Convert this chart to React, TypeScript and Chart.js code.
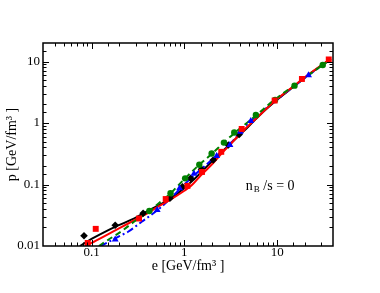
import { useEffect, useRef } from 'react';
import { Chart, registerables } from 'chart.js';

Chart.register(...registerables);

const FONT = "'Liberation Serif', 'Times New Roman', serif";

const xTickValues = [0.1, 1, 10];
const xTickLabels = ['0.1', '1', '10'];
const yTickValues = [0.01, 0.1, 1, 10];
const yTickLabels = ['0.01', '0.1', '1', '10'];

const xTitle = 'e [GeV/fm³ ]';
const yTitle = 'p [GeV/fm³ ]';
const annotationMain = 'n';
const annotationSub = 'B';
const annotationRest = ' /s = 0';
const annotationAt = [4.6, 0.081];

// curves (e, p)
const blackCurveE = [0.075, 0.1, 0.15, 0.2, 0.3, 0.4, 0.5, 0.7, 1.0, 1.3, 1.6, 2.0, 2.5, 3.0, 4, 5, 7, 10, 15, 20, 30, 38];
const blackCurveP = [0.01, 0.013, 0.018, 0.022, 0.029, 0.037, 0.044, 0.058, 0.088, 0.125, 0.172, 0.24, 0.33, 0.43, 0.65, 0.9, 1.5, 2.4, 3.9, 5.5, 8.6, 11];

const redCurveE = [0.085, 0.1, 0.15, 0.2, 0.3, 0.4, 0.5, 0.7, 1.0, 1.2, 1.5, 2.0, 2.5, 3.0, 4, 5, 7, 10, 15, 20, 30, 38];
const redCurveP = [0.01, 0.0112, 0.0155, 0.0195, 0.027, 0.034, 0.042, 0.056, 0.079, 0.097, 0.14, 0.215, 0.315, 0.42, 0.67, 0.93, 1.5, 2.45, 3.95, 5.6, 8.7, 11.1];

const greenCurveE = [0.12, 0.15, 0.2, 0.3, 0.42, 0.55, 0.7, 0.85, 1.0, 1.45, 2.0, 2.7, 3.45, 6, 9.4, 15.4, 31, 38];
const greenCurveP = [0.01, 0.0125, 0.0165, 0.026, 0.037, 0.052, 0.07, 0.095, 0.122, 0.21, 0.32, 0.49, 0.68, 1.35, 2.4, 4.1, 8.8, 10.8];

const blueCurveE = [0.125, 0.15, 0.2, 0.25, 0.35, 0.5, 0.7, 0.9, 1.2, 1.6, 2.2, 3.1, 4, 5.2, 10, 21.8, 38];
const blueCurveP = [0.01, 0.0115, 0.0145, 0.0172, 0.025, 0.037, 0.058, 0.085, 0.13, 0.19, 0.29, 0.45, 0.72, 1.08, 2.4, 6.0, 11];

// markers (e, p)
const blackPtsE = [0.083, 0.18, 0.36, 0.70, 0.955, 1.17, 1.53, 2.05, 2.98, 3.9];
const blackPtsP = [0.0147, 0.0217, 0.034, 0.0597, 0.092, 0.126, 0.177, 0.25, 0.44, 0.65];

const redPtsE = [0.091, 0.111, 0.325, 0.63, 1.08, 1.55, 2.5, 4.15, 9.4, 18.5, 36];
const redPtsP = [0.0112, 0.019, 0.028, 0.058, 0.095, 0.16, 0.34, 0.8, 2.32, 5.2, 10.8];

const greenPtsE = [0.42, 0.71, 1.02, 1.45, 1.97, 2.67, 3.45, 5.9, 9.5, 15.4, 31];
const greenPtsP = [0.037, 0.072, 0.126, 0.21, 0.32, 0.48, 0.70, 1.35, 2.37, 4.05, 8.8];

const bluePtsE = [0.18, 0.51, 0.89, 1.27, 2.23, 3.1, 4.0, 5.2, 21.8];
const bluePtsP = [0.0128, 0.0385, 0.087, 0.15, 0.29, 0.44, 0.72, 1.08, 6.0];

const BLACK = '#000000';
const RED = '#ff0000';
const GREEN = '#008000';
const BLUE = '#0000ff';

const toXY = (xs: number[], ys: number[]) => xs.map((x, i) => ({ x, y: ys[i] }));

const labelFor = (v: number, vals: number[], labels: string[]) => {
  for (let i = 0; i < vals.length; i++) {
    if (Math.abs(v - vals[i]) / vals[i] < 1e-6) return labels[i];
  }
  return '';
};

const isMajor = (v: number) => {
  const l = Math.log10(v);
  return Math.abs(l - Math.round(l)) < 1e-6;
};

const framePlugin = {
  id: 'frameTicks',
  afterDatasetsDraw(chart: any) {
    const { ctx, chartArea: a, scales } = chart;
    const xs = scales.x;
    const ys = scales.y;
    ctx.save();
    ctx.strokeStyle = '#000';
    ctx.lineWidth = 1;
    const seg = (x1: number, y1: number, x2: number, y2: number) => {
      ctx.beginPath();
      ctx.moveTo(x1, y1);
      ctx.lineTo(x2, y2);
      ctx.stroke();
    };
    xs.ticks.forEach((t: any) => {
      const px = Math.round(xs.getPixelForValue(t.value)) + 0.5;
      if (px < a.left + 1 || px > a.right - 1) return;
      const L = isMajor(t.value) ? 6 : 3.5;
      seg(px, a.bottom, px, a.bottom - L);
      seg(px, a.top, px, a.top + L);
    });
    ys.ticks.forEach((t: any) => {
      const py = Math.round(ys.getPixelForValue(t.value)) + 0.5;
      if (py < a.top + 1 || py > a.bottom - 1) return;
      const L = isMajor(t.value) ? 6 : 3.5;
      seg(a.left, py, a.left + L, py);
      seg(a.right, py, a.right - L, py);
    });
    ctx.lineWidth = 1.5;
    ctx.strokeRect(a.left, a.top, a.right - a.left, a.bottom - a.top);

    // annotation
    const ax = xs.getPixelForValue(annotationAt[0]);
    const ay = ys.getPixelForValue(annotationAt[1]);
    ctx.fillStyle = '#000';
    ctx.textBaseline = 'alphabetic';
    ctx.textAlign = 'left';
    ctx.font = `14px ${FONT}`;
    ctx.fillText(annotationMain, ax, ay);
    let cx = ax + ctx.measureText(annotationMain).width + 1;
    ctx.font = `9px ${FONT}`;
    ctx.fillText(annotationSub, cx, ay + 2);
    cx += ctx.measureText(annotationSub).width;
    ctx.font = `14px ${FONT}`;
    ctx.fillText(annotationRest, cx, ay);
    ctx.restore();
  },
};

export default function App() {
  const ref = useRef<HTMLCanvasElement | null>(null);
  useEffect(() => {
    if (!ref.current) return;
    const markers = (data: any, color: string, style: string, r: number) => ({
      data,
      showLine: false,
      pointStyle: style,
      pointRadius: r,
      pointBackgroundColor: color,
      pointBorderColor: color,
      pointBorderWidth: 0,
      borderColor: color,
      backgroundColor: color,
    });
    const curve = (data: any, color: string, dash: number[]) => ({
      data,
      showLine: true,
      pointRadius: 0,
      borderColor: color,
      backgroundColor: color,
      borderWidth: 2,
      borderDash: dash,
      cubicInterpolationMode: 'monotone',
      fill: false,
    });
    const chart = new Chart(ref.current, {
      type: 'scatter',
      data: {
        datasets: [
          markers(toXY(redPtsE, redPtsP), RED, 'rect', 4.2),
          markers(toXY(greenPtsE, greenPtsP), GREEN, 'circle', 3.2),
          markers(toXY(bluePtsE, bluePtsP), BLUE, 'triangle', 4),
          markers(toXY(blackPtsE, blackPtsP), BLACK, 'rectRot', 3.8),
          curve(toXY(greenCurveE, greenCurveP), GREEN, [6, 4]),
          curve(toXY(redCurveE, redCurveP), RED, []),
          curve(toXY(blueCurveE, blueCurveP), BLUE, [7, 3, 2, 3]),
          curve(toXY(blackCurveE, blackCurveP), BLACK, []),
        ] as any,
      },
      options: {
        animation: false,
        responsive: true,
        maintainAspectRatio: false,
        layout: { padding: { left: 0, right: 47, top: 43, bottom: 0 } },
        plugins: { legend: { display: false }, tooltip: { enabled: false } },
        scales: {
          x: {
            type: 'logarithmic',
            min: 0.03,
            max: 40,
            grid: { display: false, drawTicks: false },
            border: { display: false },
            ticks: {
              autoSkip: false,
              maxRotation: 0,
              minRotation: 0,
              padding: -1,
              color: '#000',
              font: { family: FONT, size: 13 },
              callback: (v: any) => labelFor(Number(v), xTickValues, xTickLabels),
            },
            title: {
              display: true,
              text: xTitle,
              color: '#000',
              font: { family: FONT, size: 14 },
              padding: { top: 0, bottom: 18 },
            },
            afterFit: (s: any) => {
              s.height = 47;
            },
          },
          y: {
            type: 'logarithmic',
            min: 0.01,
            max: 20,
            grid: { display: false, drawTicks: false },
            border: { display: false },
            ticks: {
              autoSkip: false,
              padding: 3,
              color: '#000',
              font: { family: FONT, size: 13 },
              callback: (v: any) => labelFor(Number(v), yTickValues, yTickLabels),
            },
            title: {
              display: true,
              text: yTitle,
              color: '#000',
              font: { family: FONT, size: 14 },
              padding: { top: 4, bottom: 0 },
            },
            afterFit: (s: any) => {
              s.width = 43;
            },
          },
        },
      } as any,
      plugins: [framePlugin],
    });
    return () => chart.destroy();
  }, []);
  return (
    <div style={{ position: 'absolute', left: 0, top: 0, width: 380, height: 293, background: '#fff' }}>
      <canvas ref={ref} />
    </div>
  );
}
